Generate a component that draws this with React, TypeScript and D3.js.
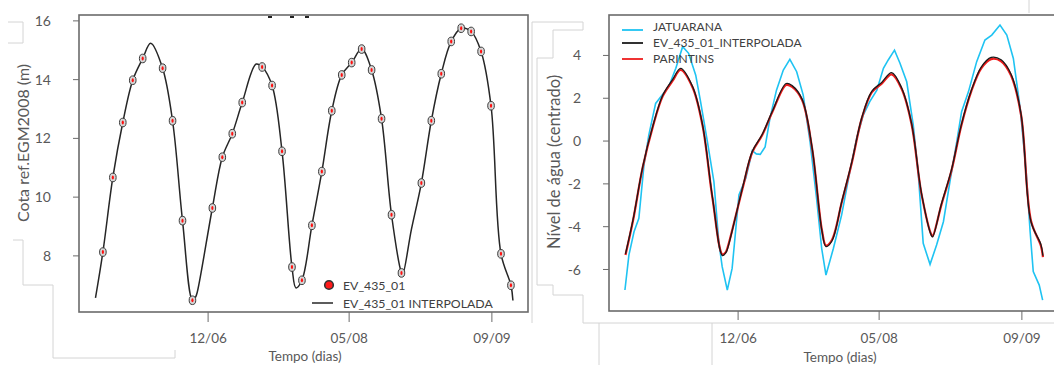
import React from "react";
import * as d3 from "d3";

// ---- data (x in days since first altimetry sample, 35-day cycle) ----
const sampleDays = [0, 35, 70, 105, 140, 210, 245, 280, 315, 385, 420, 455, 490, 560, 595, 630, 665, 700, 735, 770, 805, 840, 875, 910, 945, 980, 1015, 1050, 1120, 1155, 1190, 1225, 1260, 1295, 1330, 1365, 1400, 1435];
const sampleCota = [8.13, 10.67, 12.54, 13.98, 14.72, 14.39, 12.6, 9.2, 6.49, 9.63, 11.36, 12.16, 13.22, 14.43, 13.8, 11.56, 7.62, 7.17, 9.04, 10.87, 12.94, 14.16, 14.58, 15.04, 14.33, 12.67, 9.4, 7.42, 10.48, 12.6, 14.2, 15.3, 15.75, 15.64, 14.96, 13.11, 8.07, 7.0];

const interpDays = [-26, 0, 35, 70, 105, 140, 168, 210, 245, 280, 315, 326, 332, 385, 420, 455, 490, 539, 560, 595, 630, 665, 679, 700, 735, 770, 805, 840, 875, 910, 945, 980, 1015, 1050, 1054, 1085, 1120, 1155, 1190, 1225, 1260, 1295, 1330, 1365, 1400, 1435, 1442];
const interpCota = [6.57, 8.13, 10.67, 12.54, 13.98, 14.72, 15.24, 14.39, 12.6, 9.2, 6.49, 6.6, 6.77, 9.63, 11.36, 12.16, 13.22, 14.53, 14.43, 13.8, 11.56, 7.62, 6.91, 7.17, 9.04, 10.87, 12.94, 14.16, 14.58, 15.04, 14.33, 12.67, 9.4, 7.42, 7.36, 8.9, 10.48, 12.6, 14.2, 15.3, 15.75, 15.64, 14.96, 13.11, 8.07, 7.0, 6.48];

const evCentered = [-5.27, -3.71, -1.17, 0.7, 2.14, 2.88, 3.4, 2.55, 0.76, -2.64, -5.35, -5.24, -5.07, -2.21, -0.48, 0.32, 1.38, 2.69, 2.59, 1.96, -0.28, -4.22, -4.93, -4.67, -2.8, -0.97, 1.1, 2.32, 2.74, 3.2, 2.49, 0.83, -2.44, -4.42, -4.48, -2.94, -1.36, 0.76, 2.36, 3.46, 3.91, 3.8, 3.12, 1.27, -3.77, -4.84, -5.36];
const parintins = [-5.32, -3.75, -1.2, 0.66, 2.1, 2.82, 3.32, 2.5, 0.72, -2.68, -5.3, -5.2, -5.02, -2.25, -0.52, 0.28, 1.34, 2.62, 2.53, 1.92, -0.32, -4.18, -4.88, -4.62, -2.84, -1.01, 1.06, 2.28, 2.68, 3.12, 2.44, 0.79, -2.48, -4.38, -4.44, -2.98, -1.4, 0.72, 2.32, 3.4, 3.83, 3.73, 3.06, 1.23, -3.72, -4.9, -5.42];

const jatuDays = [-28, -14, 4, 21, 39, 56, 80, 103, 126, 151, 175, 196, 221, 238, 262, 285, 302, 314, 332, 349, 373, 397, 420, 434, 448, 465, 482, 505, 529, 552, 576, 599, 623, 646, 664, 679, 705, 734, 763, 787, 810, 833, 858, 881, 898, 920, 939, 963, 986, 1004, 1021, 1045, 1068, 1092, 1115, 1139, 1156, 1180, 1209, 1238, 1262, 1291, 1315, 1338, 1362, 1383, 1397, 1408, 1429, 1441];
const jatuarana = [-6.96, -5.33, -4.24, -3.61, -1.12, 0.28, 1.76, 2.15, 2.54, 3.4, 4.41, 4.1, 3.08, 1.84, -0.03, -1.9, -4.7, -5.87, -6.96, -5.95, -2.52, -1.74, -0.45, -0.6, -0.62, -0.27, 1.06, 2.38, 3.32, 3.82, 3.24, 2.15, -0.03, -2.68, -5.02, -6.26, -5.02, -3.46, -1.43, 0.13, 1.21, 1.84, 2.38, 3.4, 3.79, 4.25, 3.65, 2.77, 0.75, -1.59, -4.78, -5.76, -4.86, -3.77, -1.9, -0.03, 1.37, 2.3, 3.71, 4.72, 4.95, 5.42, 4.95, 3.86, 1.53, -1.43, -4.24, -6.1, -6.73, -7.43];

const xTickDays = [370, 866, 1368];
const xTickLabels = ["12/06", "05/08", "09/09"];
const yTicksLeft = [8, 10, 12, 14, 16];
const yTicksRight = [-6, -4, -2, 0, 2, 4];

const legendRight = ["JATUARANA", "EV_435_01_INTERPOLADA", "PARINTINS"];
const legendRightColors = ["#1fc3f2", "#1a1a1a", "#ee1c1c"];

const FONT = "Lato, 'Open Sans', sans-serif";
const TXT = "#595959";
const DECO = "#d4d4d4";

export default function App() {
  const dom: [number, number] = [-84, 1495];
  const xL = d3.scaleLinear().domain(dom).range([79, 528]);
  const xR = d3.scaleLinear().domain(dom).range([609, 1058]);
  const yL = d3.scaleLinear().domain([6.09, 16.2]).range([312, 15]);
  const yR = d3.scaleLinear().domain([-7.94, 5.89]).range([311, 15]);

  const lineL = d3
    .line<number>()
    .x((_, i) => xL(interpDays[i]))
    .y((d) => yL(d))
    .curve(d3.curveCatmullRom.alpha(0.5));
  const lineRBlack = d3
    .line<number>()
    .x((_, i) => xR(interpDays[i]))
    .y((d) => yR(d))
    .curve(d3.curveCatmullRom.alpha(0.5));
  const lineJ = d3
    .line<number>()
    .x((_, i) => xR(jatuDays[i]))
    .y((d) => yR(d))
    .curve(d3.curveLinear);

  return (
    <svg
      width={1054}
      height={365}
      style={{ position: "absolute", left: 0, top: 0, background: "#fff" }}
      fontFamily={FONT}
    >
      {/* decorative page lines */}
      <g fill="none" stroke={DECO} strokeWidth={1}>
        <path d="M8,22H23V43H8" />
        <path d="M13,240H23V285H53V358H175V350" />
        <path d="M532,22V323M532,22H583V30H553V58H537V285H553V295H583V323H1054" />
        <path d="M599,323V365M712,323V365" />
        <path d="M1029,0V13" />
      </g>

      {/* ---------- LEFT PANEL ---------- */}
      <rect x={79} y={15} width={449} height={297} fill="none" stroke="#6b6b6b" strokeWidth={1.6} />
      <g stroke="#222" strokeWidth={2}>
        <line x1={268} x2={272} y1={17} y2={17} />
        <line x1={290} x2={294} y1={17} y2={17} />
        <line x1={305} x2={309} y1={17} y2={17} />
      </g>
      {yTicksLeft.map((t) => (
        <g key={"yl" + t}>
          <line x1={73} x2={79} y1={yL(t)} y2={yL(t)} stroke="#6b6b6b" strokeWidth={1} />
          <text x={51} y={yL(t)} dy="0.36em" textAnchor="end" fontSize={14} fill={TXT}>
            {t}
          </text>
        </g>
      ))}
      {xTickDays.map((t, i) => (
        <g key={"xl" + t}>
          <line x1={xL(t)} x2={xL(t)} y1={312} y2={322} stroke="#6b6b6b" strokeWidth={1} />
          <text x={xL(t)} y={343} textAnchor="middle" fontSize={13.5} fill={TXT}>
            {xTickLabels[i]}
          </text>
        </g>
      ))}
      <text x={305} y={361} textAnchor="middle" fontSize={13.5} fill={TXT}>
        Tempo (dias)
      </text>
      <text transform="translate(29,143) rotate(-90)" textAnchor="middle" fontSize={16} fill={TXT}>
        Cota ref.EGM2008 (m)
      </text>

      <path d={lineL(interpCota) || ""} fill="none" stroke="#262626" strokeWidth={1.5} />
      {sampleCota.map((v, i) => (
        <g key={"p" + i}>
          <ellipse cx={xL(sampleDays[i])} cy={yL(v)} rx={3.3} ry={4.3} fill="#d6d6d6" stroke="#3c3c3c" strokeWidth={1} />
          <ellipse cx={xL(sampleDays[i])} cy={yL(v)} rx={1.1} ry={2} fill="#ff1010" />
        </g>
      ))}

      {/* left legend */}
      <circle cx={329} cy={285} r={4.3} fill="#ff1a1a" stroke="#333" strokeWidth={1.6} />
      <text x={343} y={290} fontSize={12.3} fill="#404040">
        EV_435_01
      </text>
      <line x1={312} x2={333} y1={303} y2={303} stroke="#262626" strokeWidth={1.5} />
      <text x={343} y={308} fontSize={12.3} fill="#404040">
        EV_435_01 INTERPOLADA
      </text>

      {/* ---------- RIGHT PANEL ---------- */}
      <rect x={609} y={15} width={460} height={296} fill="none" stroke="#6b6b6b" strokeWidth={1.6} />
      {yTicksRight.map((t) => (
        <g key={"yr" + t}>
          <line x1={603} x2={609} y1={yR(t)} y2={yR(t)} stroke="#6b6b6b" strokeWidth={1} />
          <text x={581} y={yR(t)} dy="0.36em" textAnchor="end" fontSize={14} fill={TXT}>
            {t}
          </text>
        </g>
      ))}
      {xTickDays.map((t, i) => (
        <g key={"xr" + t}>
          <line x1={xR(t)} x2={xR(t)} y1={311} y2={320} stroke="#6b6b6b" strokeWidth={1} />
          <text x={xR(t)} y={343} textAnchor="middle" fontSize={13.5} fill={TXT}>
            {xTickLabels[i]}
          </text>
        </g>
      ))}
      <text x={840} y={362} textAnchor="middle" fontSize={13.5} fill={TXT}>
        Tempo (dias)
      </text>
      <text transform="translate(560,162) rotate(-90)" textAnchor="middle" fontSize={16.5} fill={TXT}>
        Nível de água (centrado)
      </text>

      <path d={lineJ(jatuarana) || ""} fill="none" stroke={legendRightColors[0]} strokeWidth={1.6} />
      <path d={lineRBlack(parintins) || ""} fill="none" stroke={legendRightColors[2]} strokeWidth={2.2} />
      <path d={lineRBlack(evCentered) || ""} fill="none" stroke={legendRightColors[1]} strokeWidth={1.3} />

      {legendRight.map((name, i) => (
        <g key={name}>
          <line x1={622} x2={643} y1={[30, 43, 59][i]} y2={[30, 43, 59][i]} stroke={legendRightColors[i]} strokeWidth={1.8} />
          <text x={653} y={[31, 47, 63][i]} fontSize={12} fill="#404040">
            {name}
          </text>
        </g>
      ))}
    </svg>
  );
}
